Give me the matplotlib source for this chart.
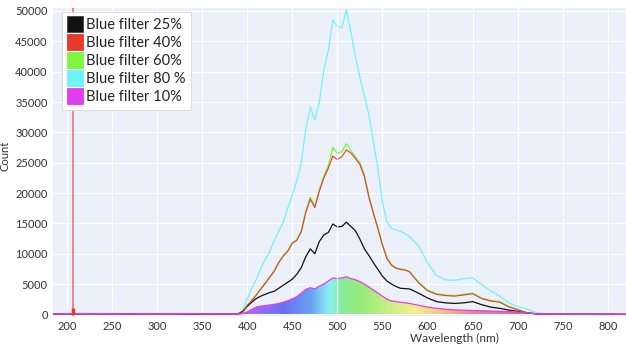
import numpy as np
import matplotlib.pyplot as plt
from matplotlib.colors import LinearSegmentedColormap
from matplotlib.lines import Line2D

plt.rcParams['font.family'] = ['Lato', 'DejaVu Sans']

# wavelength grid (nm) shared by every series
wl = [185, 220, 260, 300, 340, 380, 390, 395, 400, 405, 410, 415, 420, 425, 430,
      435, 440, 445, 450, 455, 460, 465, 470, 475, 480, 485, 490, 495, 500, 505,
      510, 515, 520, 525, 530, 535, 540, 545, 550, 555, 560, 565, 570, 575, 580,
      590, 600, 610, 620, 630, 640, 650, 660, 670, 680, 690, 700, 710, 720, 730,
      750, 780, 820]

counts_25 = [60, 90, 70, 80, 60, 60, 50, 500, 1300, 2000, 2600, 3000, 3300, 3600, 3800,
             4300, 4800, 5300, 5800, 6600, 7700, 9500, 10800, 10000, 12000, 13100, 13500, 14900, 14400, 14500,
             15200, 14500, 13800, 12400, 10800, 9700, 8500, 7400, 6300, 5500, 5000, 4600, 4300, 4250, 4200,
             3500, 2700, 2100, 1900, 1800, 1900, 2100, 1600, 1200, 1000, 700, 500, 250, 80, 40,
             30, 30, 20]
counts_40 = [80, 120, 60, 90, 70, 60, 100, 300, 1450, 2250, 3150, 4150, 5100, 6100, 7100,
             8500, 9600, 10400, 11700, 12200, 13600, 16800, 19000, 17600, 20300, 22500, 24100, 26100, 25500, 26000,
             27100, 26600, 25700, 24700, 22700, 19300, 16600, 14100, 11400, 9200, 8100, 7600, 7400, 7300, 7000,
             5200, 3900, 3300, 3100, 3000, 3200, 3400, 2600, 2200, 2000, 1250, 750, 280, 100, 50,
             40, 30, 20]
counts_60 = [70, 100, 80, 70, 90, 60, 100, 300, 1500, 2300, 3200, 4200, 5200, 6200, 7200,
             8600, 9700, 10500, 11800, 12300, 13800, 17000, 19300, 17800, 20500, 22800, 24500, 27500, 26500, 26800,
             28100, 27000, 26000, 25000, 23000, 19500, 16800, 14300, 11500, 9300, 8200, 7700, 7500, 7400, 7100,
             5300, 4000, 3400, 3200, 3100, 3300, 3500, 2700, 2300, 2100, 1300, 800, 300, 100, 50,
             40, 30, 20]
counts_80 = [50, 80, 60, 80, 60, 60, 150, 500, 2500, 4200, 5700, 7600, 9000, 10300, 12200,
             13700, 15200, 17500, 19700, 22000, 25000, 30500, 34200, 32000, 35000, 40300, 43500, 48500, 47500, 47200,
             50200, 46500, 42500, 39000, 36000, 32800, 28500, 24000, 18500, 15200, 14200, 13900, 13700, 13300, 12800,
             11300, 8500, 6400, 5700, 5600, 5900, 6000, 4900, 3900, 3000, 1900, 1300, 900, 300, 60,
             40, 30, 20]
counts_10 = [90, 150, 80, 100, 120, 60, 20, 100, 400, 800, 1200, 1350, 1450, 1550, 1650,
             1800, 2000, 2250, 2550, 2900, 3500, 4100, 4400, 4200, 4650, 5000, 5500, 6000, 5900, 6000,
             6200, 5900, 5700, 5400, 5000, 4500, 4000, 3500, 3000, 2500, 2200, 2100, 2000, 1900, 1800,
             1500, 1200, 1000, 850, 750, 680, 650, 600, 550, 500, 450, 400, 250, 100, 40,
             30, 20, 20]

# narrow line in the 40% run
spike_nm = 207
spike_count = 1100

labels = ['Blue filter 25%', 'Blue filter 40%', 'Blue filter 60%', 'Blue filter 80 %', 'Blue filter 10%']
colors = ['#111111', '#e8392b', '#7ff542', '#6ff3fb', '#e23cf0']

# visible spectrum colours used under the 10% curve
spec_nm = [385, 405, 440, 470, 490, 505, 525, 560, 585, 615, 645, 690, 740]
spec_col = ['#b04cf5', '#9b5cf5', '#5a62f3', '#5a9af0', '#80f0f5', '#7ded8a', '#8ceb6a',
            '#c8f07a', '#f5f07e', '#f0c27a', '#e8828a', '#e06080', '#d84070']

fig = plt.figure(figsize=(6.26, 3.46), dpi=100)
ax = fig.add_axes([0.085, 0.087, 0.915, 0.89])
ax.set_facecolor('#ebf0fb')

x = np.array(wl)
y10 = np.array(counts_10)

# gradient fill under the 10% curve
pos = [(w - spec_nm[0]) / (spec_nm[-1] - spec_nm[0]) for w in spec_nm]
cmap = LinearSegmentedColormap.from_list('spec', list(zip(pos, spec_col)))
grad = np.linspace(0, 1, 500).reshape(1, -1)
im = ax.imshow(grad, extent=[spec_nm[0], spec_nm[-1], 0, 7000], aspect='auto',
               cmap=cmap, origin='lower', zorder=2, alpha=0.9)
poly = ax.fill_between(x, 0, y10, color='none', lw=0)
im.set_clip_path(poly.get_paths()[0], transform=ax.transData)

ax.plot(x, counts_25, color=colors[0], lw=0.9, zorder=4)
ax.plot(x, counts_60, color=colors[2], lw=1.0, zorder=3)
ax.plot(x, counts_40, color=colors[1], lw=0.8, zorder=4)
ax.plot(x, counts_80, color=colors[3], lw=0.9, zorder=3)
ax.plot(x, y10, color=colors[4], lw=0.9, zorder=4)

ax.axvline(spike_nm, color='#f06060', lw=1.3, alpha=0.8, zorder=3)
ax.vlines(spike_nm, 0, spike_count, color='#e8392b', lw=2.5, zorder=4)
ax.axvline(500, color='white', lw=1.0, alpha=0.7, zorder=5)

ax.set_xlim(185, 820)
ax.set_ylim(-250, 50500)
ax.set_xticks(np.arange(200, 801, 50))
ax.set_yticks(np.arange(0, 50001, 5000))
ax.grid(color='white', lw=0.8)
ax.set_axisbelow(True)
for s in ax.spines.values():
    s.set_visible(False)
ax.tick_params(length=0, labelsize=8, colors='#333333', pad=4)
ax.set_xlabel('Wavelength (nm)', fontsize=8.5, color='#333333')
ax.xaxis.set_label_coords(0.70, -0.055)
ax.set_ylabel('Count', fontsize=8, color='#333333')
ax.yaxis.set_label_coords(-0.075, 0.52)

handles = [Line2D([], [], ls='none', marker='s', markersize=11, markerfacecolor=c,
                  markeredgecolor='#444444' if c == '#111111' else c, markeredgewidth=0.6)
           for c in colors]
leg = ax.legend(handles, labels, loc='upper left', bbox_to_anchor=(0.016, 0.987),
                borderaxespad=0, fontsize=10.5, handlelength=0.9, handletextpad=0.3,
                labelspacing=0.28, borderpad=0.4, fancybox=False, framealpha=1,
                edgecolor='#dddddd')
leg.get_frame().set_linewidth(0.8)
for t in leg.get_texts():
    t.set_color('#222222')

fig.savefig('out.png', dpi=100)
